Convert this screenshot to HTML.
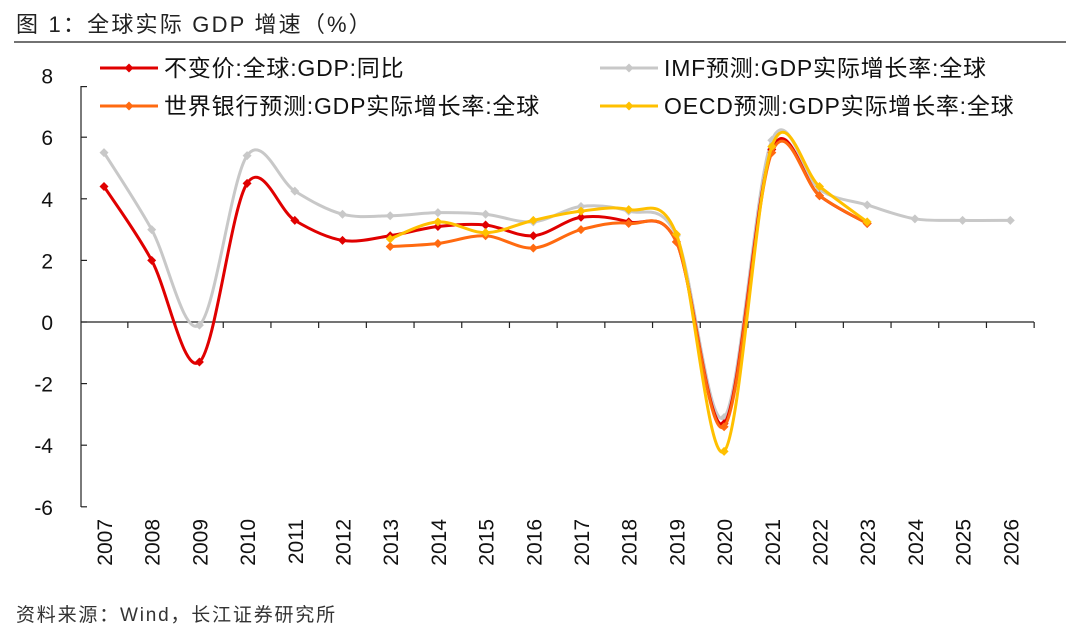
<!DOCTYPE html>
<html><head><meta charset="utf-8"><style>
body{margin:0;background:#fff;width:1080px;height:633px;overflow:hidden;font-family:"Liberation Sans","Noto Sans CJK SC",sans-serif}
</style></head><body>
<svg width="1080" height="633" xmlns="http://www.w3.org/2000/svg" font-family="Liberation Sans, Noto Sans CJK SC, sans-serif">
<text x="16" y="32" font-size="22" letter-spacing="2.2" fill="#222">图 1：全球实际 GDP 增速（%）</text>
<line x1="14" y1="42" x2="1066" y2="42" stroke="#444" stroke-width="1.5"/>
<text x="16" y="621" font-size="19" letter-spacing="1.8" fill="#333">资料来源：Wind，长江证券研究所</text>
<g id="axes"></g>
<g id="series"></g>
<g id="legend"></g>
</svg>
<script>
const years=["2007","2008","2009","2010","2011","2012","2013","2014","2015","2016","2017","2018","2019","2020","2021","2022","2023","2024","2025","2026"];
const yTicks=[8,6,4,2,0,-2,-4,-6];
const redVals=[4.4,2.0,-1.3,4.5,3.3,2.65,2.8,3.1,3.15,2.8,3.4,3.25,2.6,-3.3,5.6,4.1,3.2];
const grayVals=[5.5,3.0,-0.1,5.4,4.25,3.5,3.45,3.55,3.5,3.25,3.75,3.6,2.8,-3.1,5.9,4.3,3.8,3.35,3.3,3.3];
const orangeVals=[2.45,2.55,2.8,2.4,3.0,3.2,2.6,-3.4,5.5,4.1,3.2];
const yellowVals=[2.7,3.25,2.9,3.3,3.6,3.65,2.85,-4.2,5.7,4.4,3.25];
const NS="http://www.w3.org/2000/svg";
const x=i=>104+i*47.7;
const y=v=>322-v*30.8;
function mk(t,a,p){const e=document.createElementNS(NS,t);for(const k in a)e.setAttribute(k,a[k]);p.appendChild(e);return e;}
const ax=document.getElementById('axes');
const yl=mk('line',{x1:81,y1:86,x2:81,y2:507,stroke:'#222','stroke-width':1.2},ax);


yTicks.forEach(v=>{
 const t=mk('line',{x1:81,y1:y(v)+(v===8?11:0),x2:87,y2:y(v)+(v===8?11:0),stroke:'#222','stroke-width':1.2},ax);
 
 
 const l=mk('text',{x:53,y:y(v)+8,'font-size':21,'text-anchor':'end',fill:'#111'},ax);
 l.textContent=v;
 
 
});
const xl=mk('line',{x1:81,y1:y(0),x2:1034,y2:y(0),stroke:'#222','stroke-width':1.2},ax);


years.forEach((yr,i)=>{
 const t=mk('line',{x1:x(i)+23.85,y1:y(0),x2:x(i)+23.85,y2:y(0)+6,stroke:'#222','stroke-width':1.2},ax);
 
 
 const l=mk('text',{x:0,y:0,'font-size':21,fill:'#111','text-anchor':'end',transform:`translate(${x(i)+8},519) rotate(-90)`},ax);
 l.textContent=yr;
 
 
});
function path(pts){let d=`M${pts[0][0]},${pts[0][1]}`;for(let i=0;i<pts.length-1;i++){const p0=pts[i-1]||pts[i],p1=pts[i],p2=pts[i+1],p3=pts[i+2]||p2;const t=6;d+=` C${p1[0]+(p2[0]-p0[0])/t},${p1[1]+(p2[1]-p0[1])/t} ${p2[0]-(p3[0]-p1[0])/t},${p2[1]-(p3[1]-p1[1])/t} ${p2[0]},${p2[1]}`;}return d;}
const sg=document.getElementById('series');
function draw(vals,start,color,name){
 const pts=vals.map((v,i)=>[x(i+start),y(v)]);
 const p=mk('path',{d:path(pts),fill:'none',stroke:color,'stroke-width':3},sg);
 
 
 pts.forEach(q=>{
  const m=mk('path',{d:`M${q[0]},${q[1]-4.5}L${q[0]+4.5},${q[1]}L${q[0]},${q[1]+4.5}L${q[0]-4.5},${q[1]}Z`,fill:color},sg);
  
  
 });
}
draw(grayVals,0,'#c8c8c8','imf-forecast');
draw(redVals,0,'#e00000','actual-gdp');
draw(orangeVals,6,'#ff6a10','world-bank-forecast');
draw(yellowVals,6,'#ffc000','oecd-forecast');
const lg=document.getElementById('legend');
[["不变价:全球:GDP:同比",'#e00000',100,68],["IMF预测:GDP实际增长率:全球",'#c8c8c8',600,68],["世界银行预测:GDP实际增长率:全球",'#ff6a10',100,106],["OECD预测:GDP实际增长率:全球",'#ffc000',600,106]].forEach(e=>{
 const g=mk('g',{},lg);
 
 
 mk('line',{x1:e[2],y1:e[3],x2:e[2]+58,y2:e[3],stroke:e[1],'stroke-width':3},g);
 mk('path',{d:`M${e[2]+29},${e[3]-4.5}l4.5,4.5l-4.5,4.5l-4.5,-4.5Z`,fill:e[1]},g);
 const t=mk('text',{x:e[2]+64,y:e[3]+8,'font-size':23,'letter-spacing':0.8,fill:'#111'},g);
 t.textContent=e[0];
});
</script>
</body></html>
